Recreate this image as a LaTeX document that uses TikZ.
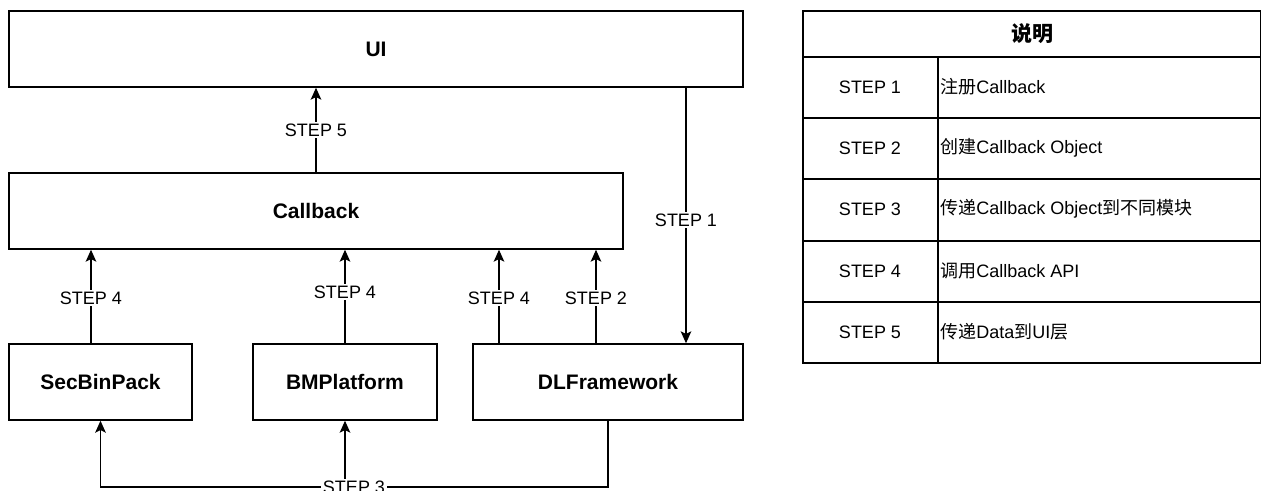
\documentclass[tikz,border=0pt]{standalone}
\usepackage{fontspec}
\setmainfont{Liberation Sans}
\newfontfamily\cjk{Noto Sans CJK SC}
\usetikzlibrary{arrows.meta}

\begin{document}
\begin{tikzpicture}[x=0.75pt,y=-0.75pt,
  box/.style={draw, line width=1.1pt, inner sep=0pt, minimum height=57pt,
    font=\fontsize{15.75}{18}\selectfont\bfseries},
  conn/.style={line width=0.9pt},
  arr/.style={conn, -{Stealth[length=9pt,width=8pt,inset=2pt]}},
  lbl/.style={fill=white, inner sep=1.5pt, font=\fontsize{13.5}{16}\selectfont},
  grid/.style={line width=1.1pt},
  cell/.style={inner sep=0pt, font=\fontsize{13.5}{16}\selectfont}]
\useasboundingbox (0,0) rectangle (1261,490);

% modules
\node[box, minimum width=550.5pt] (ui) at (376,49) {UI};
\node[box, minimum width=460.5pt] (cb) at (316,211) {Callback};
\node[box, minimum width=137.25pt] (sb) at (100.5,382) {SecBinPack};
\node[box, minimum width=138pt] (bm) at (345,382) {BMPlatform};
\node[box, minimum width=202.5pt] (dl) at (608,382) {DLFramework};

% helper columns / rows for the connectors
\coordinate (c1) at (686,0);
\coordinate (c4a) at (91,0);
\coordinate (c4c) at (499,0);
\coordinate (c2) at (596,0);
\coordinate (bot) at (0,487);

% STEP 5
\draw[arr] (cb.north) -- (cb.north |- ui.south);
\node[lbl] at (316,130) {STEP 5};
% STEP 1
\draw[arr] (c1 |- ui.south) -- (c1 |- dl.north);
\node[lbl] at (686,220) {STEP 1};
% STEP 4 (three modules)
\draw[arr] (c4a |- sb.north) -- (c4a |- cb.south);
\node[lbl] at (91,298) {STEP 4};
\draw[arr] (bm.north) -- (bm.north |- cb.south);
\node[lbl] at (345,292) {STEP 4};
\draw[arr] (c4c |- dl.north) -- (c4c |- cb.south);
\node[lbl] at (499,298) {STEP 4};
% STEP 2
\draw[arr] (c2 |- dl.north) -- (c2 |- cb.south);
\node[lbl] at (596,298) {STEP 2};
% STEP 3
\draw[arr] (dl.south) -- (dl.south |- bot) -- (sb.south |- bot) -- (sb.south);
\draw[arr] (bm.south |- bot) -- (bm.south);
\node[lbl] at (354,487) {STEP 3};

% legend table
\draw[grid] (803,11) rectangle (1261,363);
\foreach \y in {57,118,179,241,302} \draw[grid] (803,\y) -- (1261,\y);
\draw[grid] (938,57) -- (938,363);
\node[cell, font=\fontsize{15.75}{18}\selectfont\bfseries] (th) at (1032,34) {\cjk 说明};
\node[cell] (s1) at (870,87) {STEP 1};
\node[cell] (s2) at (870,148) {STEP 2};
\node[cell] (s3) at (870,209) {STEP 3};
\node[cell] (s4) at (870,271) {STEP 4};
\node[cell] (s5) at (870,332) {STEP 5};
\node[cell, anchor=west] (d1) at (940,87) {{\cjk 注册}Callback};
\node[cell, anchor=west] (d2) at (940,148) {{\cjk 创建}Callback Object};
\node[cell, anchor=west] (d3) at (940,209) {{\cjk 传递}Callback Object{\cjk 到不同模块}};
\node[cell, anchor=west] (d4) at (940,271) {{\cjk 调用}Callback API};
\node[cell, anchor=west] (d5) at (940,332) {{\cjk 传递}Data{\cjk 到}UI{\cjk 层}};
\end{tikzpicture}
\end{document}
